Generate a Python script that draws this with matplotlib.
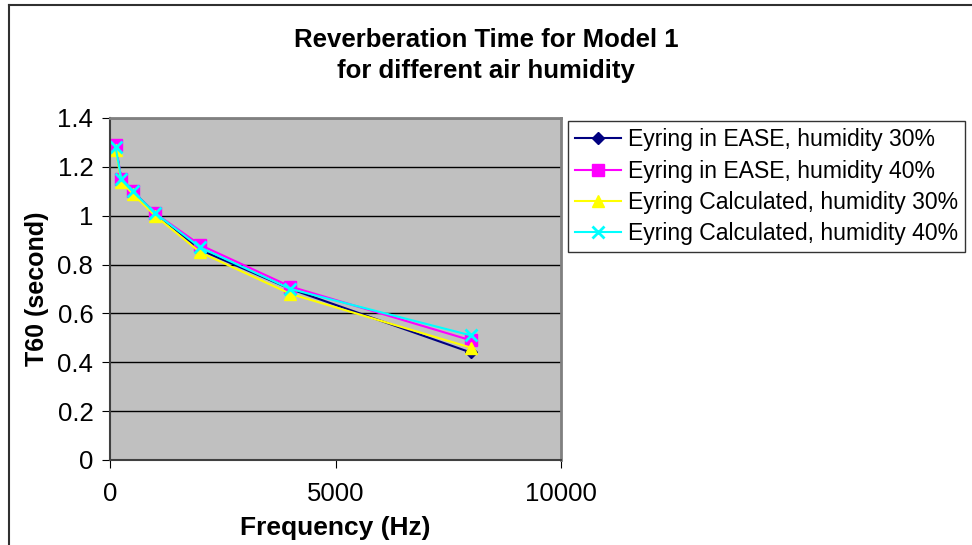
import matplotlib.pyplot as plt
from matplotlib.lines import Line2D

plt.rcParams['font.family'] = ['Liberation Sans', 'DejaVu Sans']

# frequency bands (Hz)
freq = [125, 250, 500, 1000, 2000, 4000, 8000]

# T60 values (seconds)
ease_30 = [1.28, 1.15, 1.10, 1.01, 0.86, 0.70, 0.44]
ease_40 = [1.29, 1.15, 1.10, 1.01, 0.88, 0.71, 0.49]
calc_30 = [1.27, 1.14, 1.09, 1.00, 0.85, 0.68, 0.46]
calc_40 = [1.28, 1.15, 1.10, 1.01, 0.87, 0.70, 0.51]

labels = ['Eyring in EASE, humidity 30%', 'Eyring in EASE, humidity 40%',
          'Eyring Calculated, humidity 30%', 'Eyring Calculated, humidity 40%']

fig = plt.figure(figsize=(9.72, 5.45), dpi=100)
ax = fig.add_axes([0.1132, 0.156, 0.464, 0.6275])
ax.set_facecolor('#C0C0C0')

# outer chart frame: only left and top edges are visible
fx, fy = 8.5 / 972, 1 - 4.5 / 545
fig.lines.append(Line2D([fx, fx], [0, fy], transform=fig.transFigure,
                        color='#303030', lw=1.5))
fig.lines.append(Line2D([fx, 1], [fy, fy], transform=fig.transFigure,
                        color='#303030', lw=1.5))

ax.plot(freq, ease_30, color='#000080', marker='D', markersize=6, lw=1.5,
        label=labels[0])
ax.plot(freq, ease_40, color='#FF00FF', marker='s', markersize=9, lw=1.5,
        label=labels[1])
ax.plot(freq, calc_30, color='#FFFF00', marker='^', markersize=9, lw=1.5,
        label=labels[2])
ax.plot(freq, calc_40, color='#00FFFF', marker='x', markersize=9, lw=1.5,
        markeredgewidth=2, label=labels[3])

ax.set_xlim(0, 10000)
ax.set_ylim(0, 1.4)
ax.set_xticks([0, 5000, 10000])
ax.set_yticks([0, 0.2, 0.4, 0.6, 0.8, 1.0, 1.2, 1.4])
ax.set_yticklabels(['0', '0.2', '0.4', '0.6', '0.8', '1', '1.2', '1.4'])
ax.yaxis.grid(True, color='black', linewidth=1)
ax.set_axisbelow(True)
ax.tick_params(axis='both', labelsize=18.5, direction='out', length=6,
               color='black', pad=6)
ax.tick_params(axis='x', pad=10)

for s in ['top', 'right']:
    ax.spines[s].set_color('#808080')
    ax.spines[s].set_linewidth(2)
for s in ['left', 'bottom']:
    ax.spines[s].set_color('#404040')
    ax.spines[s].set_linewidth(1.5)

ax.set_xlabel('Frequency (Hz)', fontsize=19, fontweight='bold', labelpad=7)
ax.set_ylabel('T60 (second)', fontsize=18, fontweight='bold', labelpad=6)

fig.text(0.5, 0.898, 'Reverberation Time for Model 1\nfor different air humidity',
         ha='center', va='center', fontsize=18.5, fontweight='bold',
         linespacing=1.38)

leg = ax.legend(loc='upper left', bbox_to_anchor=(1.015, 0.99), fontsize=16.6,
                frameon=True, fancybox=False, edgecolor='black',
                handlelength=2.0, handletextpad=0.3, labelspacing=0.36,
                borderpad=0.3, borderaxespad=0)
leg.get_frame().set_linewidth(1)

fig.savefig('out.png', dpi=100)
